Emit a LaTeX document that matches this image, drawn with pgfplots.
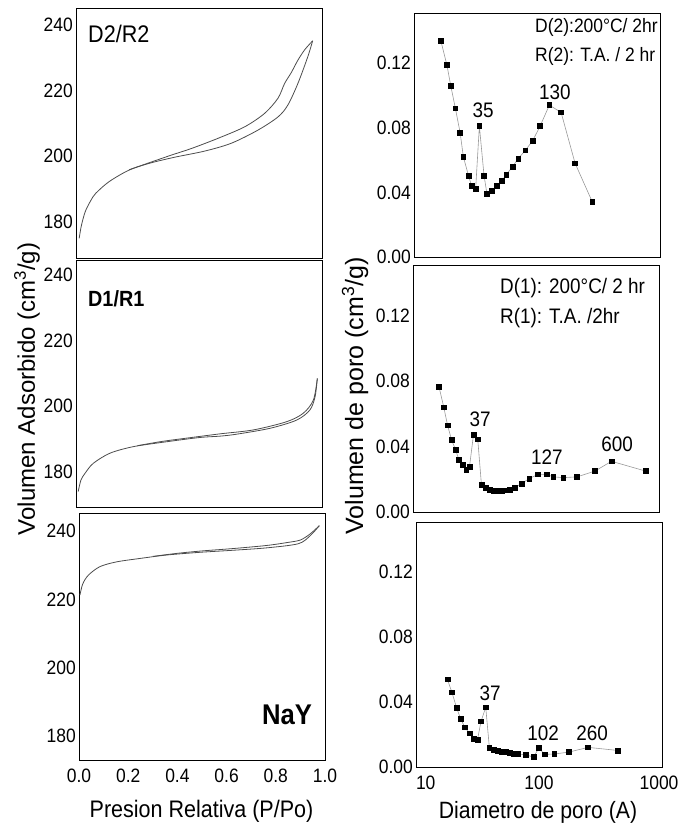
\documentclass[border=0pt]{standalone}
\usepackage{fontspec}
\setmainfont{Liberation Sans}
\newfontfamily\cf{Liberation Sans}[FakeStretch=0.9]
\usepackage{pgfplots}
\pgfplotsset{compat=1.18}

\newcommand{\fs}[1]{\fontsize{#1}{#1}\selectfont}

\tikzset{peak/.style={font=\cf\fs{21}, inner sep=0pt}}
\pgfplotsset{
  panel/.style={scale only axis, width=246pt, anchor=south west,
    major tick length=0pt, minor tick length=0pt,
    axis line style={line width=0.9pt},
    tick label style={font=\cf\fs{19.4}, /pgf/number format/assume math mode=true},
    yticklabel style={inner xsep=3pt},
    xticklabel style={yshift=-5pt},
    clip=false},
  iso/.style={panel, xmin=0, xmax=1, ytick={180,200,220,240},
    xtick={0,0.2,0.4,0.6,0.8,1},
    xticklabel style={/pgf/number format/.cd, fixed, fixed zerofill, precision=1}},
  pore/.style={panel, xmin=10, xmax=1000, ymin=0, ymax=0.151,
    xtick={10,100,1000}, xticklabels={\makebox[0pt][l]{10},100,\makebox[0pt]{1000\hspace*{6pt}}},
    ytick={0,0.04,0.08,0.12},
    yticklabel style={/pgf/number format/.cd, fixed, fixed zerofill, precision=2}},
  branch/.style={black!70, line width=0.8pt, smooth, no marks},
  psd/.style={black!40, line width=0.6pt, mark=square*, mark size=2.4pt,
    mark options={draw=black, fill=black, solid}},
}

\begin{document}
\begin{tikzpicture}
\path[use as bounding box] (0,0) rectangle (681pt,-825pt);

% ---- isotermas ----
\begin{axis}[iso, at={(76pt,-258pt)}, height=250pt, ymin=169, ymax=245.2, xticklabel=\empty]
\addplot[branch] coordinates {(0.013,175.0)(0.02,178.2)(0.03,181.3)(0.04,183.6)(0.06,186.5)(0.08,188.7)(0.135,192.3)(0.216,195.8)(0.3,197.9)(0.4,199.7)(0.524,201.6)(0.632,204.0)(0.74,208.0)(0.821,212.0)(0.861,215.6)(0.902,222.2)(0.942,230.3)(0.962,235.2)};
\addplot[branch] coordinates {(0.962,235.2)(0.93,232.5)(0.902,229.3)(0.875,225.5)(0.848,222.2)(0.821,217.7)(0.767,213.1)(0.686,209.0)(0.578,205.5)(0.47,202.4)(0.389,200.4)(0.3,198.1)(0.216,195.9)};
\end{axis}

\begin{axis}[iso, at={(76pt,-507pt)}, height=247pt, ymin=169.3, ymax=244.6, xticklabel=\empty]
\addplot[branch] coordinates {(0.009,174.0)(0.02,177.5)(0.037,179.6)(0.07,182.6)(0.138,185.7)(0.233,187.7)(0.369,189.2)(0.504,190.5)(0.585,190.9)(0.653,191.5)(0.789,193.3)(0.897,195.8)(0.951,198.9)(0.972,203.0)(0.981,208.5)};
\addplot[branch] coordinates {(0.981,208.5)(0.965,201.9)(0.924,197.9)(0.856,195.3)(0.721,192.8)(0.585,191.6)(0.45,190.3)(0.35,189.3)(0.25,188.0)};
\end{axis}

\begin{axis}[iso, at={(79pt,-760pt)}, height=247pt, ymin=173, ymax=245.3]
\addplot[branch] coordinates {(0.004,221.3)(0.015,224.5)(0.038,227.1)(0.085,229.6)(0.153,231.0)(0.248,232.0)(0.356,233.0)(0.492,233.8)(0.627,234.4)(0.763,235.1)(0.891,236.3)(0.939,238.6)(0.977,241.6)};
\addplot[branch] coordinates {(0.977,241.6)(0.94,239.2)(0.9,237.4)(0.85,236.7)(0.763,235.8)(0.627,234.9)(0.5,234.2)(0.4,233.5)(0.3,232.6)};
\end{axis}

% ---- distribucion de poros ----
\begin{semilogxaxis}[pore, at={(414pt,-257pt)}, height=244pt, xticklabel=\empty]
\addplot[psd] coordinates {(16.5,0.134)(18.5,0.119)(19.9,0.106)(21.7,0.092)(23.7,0.077)(25.2,0.062)(27.7,0.0505)(29.4,0.044)(31.7,0.042)(34.0,0.081)(37.1,0.0505)(39.2,0.039)(43.0,0.041)(47.0,0.044)(51.6,0.047)(56.3,0.051)(63.4,0.056)(70.5,0.061)(80.4,0.066)(92.2,0.072)(106,0.081)(126,0.094)(157,0.0895)(204,0.058)(282,0.034)};
\node[peak] at (axis cs:36.4,0.0909) {35};
\node[peak] at (axis cs:140,0.102) {130};
\end{semilogxaxis}

\begin{semilogxaxis}[pore, at={(413pt,-512pt)}, height=247pt, xticklabel=\empty]
\addplot[psd] coordinates {(16.3,0.0763)(17.8,0.064)(19.1,0.053)(20.6,0.044)(22.2,0.038)(23.6,0.032)(25.4,0.0287)(27.1,0.0256)(28.8,0.0277)(31.0,0.047)(33.6,0.0445)(36.0,0.0168)(38.8,0.015)(41.9,0.0137)(45.1,0.0131)(48.6,0.0131)(52.4,0.0131)(56.4,0.0133)(60.8,0.0137)(67.2,0.015)(76.5,0.0174)(88.3,0.0205)(104,0.023)(122,0.023)(138,0.0215)(167,0.021)(216,0.0215)(301,0.025)(411,0.031)(780,0.025)};
\node[peak] at (axis cs:35.1,0.0566) {37};
\node[peak] at (axis cs:122.7,0.0338) {127};
\node[peak] at (axis cs:456,0.0412) {600};
\end{semilogxaxis}

\begin{semilogxaxis}[pore, at={(416pt,-767pt)}, height=245pt]
\addplot[psd] coordinates {(18.0,0.054)(19.6,0.046)(21.4,0.0364)(23.1,0.0296)(24.9,0.0245)(27.2,0.0208)(29.3,0.0174)(31.6,0.0168)(33.8,0.0282)(36.9,0.0368)(39.5,0.0119)(42.6,0.0106)(46.0,0.0098)(49.5,0.0094)(53.4,0.0092)(57.5,0.0088)(62.0,0.0082)(66.8,0.008)(77.6,0.0076)(90.2,0.0061)(99.7,0.0117)(111,0.0078)(133,0.008)(175,0.0092)(251,0.0121)(438,0.0102)};
\node[peak] at (axis cs:40,0.0453) {37};
\node[peak] at (axis cs:108,0.0208) {102};
\node[peak] at (axis cs:270,0.0208) {260};
\end{semilogxaxis}

% ---- textos ----
\node[anchor=base west, inner sep=0pt, font=\cf\fs{24}] at (88pt,-42.7pt) {D2/R2};
\node[anchor=base west, inner sep=0pt, font=\cf\fs{22}\bfseries] at (88pt,-306pt) {D1/R1};
\node[anchor=base west, inner sep=0pt, font=\cf\fs{28.5}\bfseries] at (262pt,-724pt) {NaY};
\node[anchor=base west, inner sep=0pt, font=\cf\fs{19.4}] at (535pt,-32.7pt) {D(2):200°C/ 2hr};
\node[anchor=base west, inner sep=0pt, font=\cf\fs{19.4}] at (535pt,-61.7pt) {R(2): T.A. / 2 hr};
\node[anchor=base west, inner sep=0pt, font=\cf\fs{21}] at (500pt,-293.3pt) {D(1): 200°C/ 2 hr};
\node[anchor=base west, inner sep=0pt, font=\cf\fs{21}] at (500pt,-323.3pt) {R(1): T.A. /2hr};

\node[inner sep=0pt, font=\cf\fs{23.9}] at (201.5pt,-811pt) {Presion Relativa (P/Po)};
\node[inner sep=0pt, font=\cf\fs{23.6}] at (538pt,-812pt) {Diametro de poro (A)};
\node[inner sep=0pt, rotate=90, font=\fs{24}] at (27pt,-389pt) {Volumen Adsorbido (cm\textsuperscript{3}/g)};
\node[inner sep=0pt, rotate=90, font=\fs{25}] at (355pt,-396pt) {Volumen de poro (cm\textsuperscript{3}/g)};
\end{tikzpicture}
\end{document}
